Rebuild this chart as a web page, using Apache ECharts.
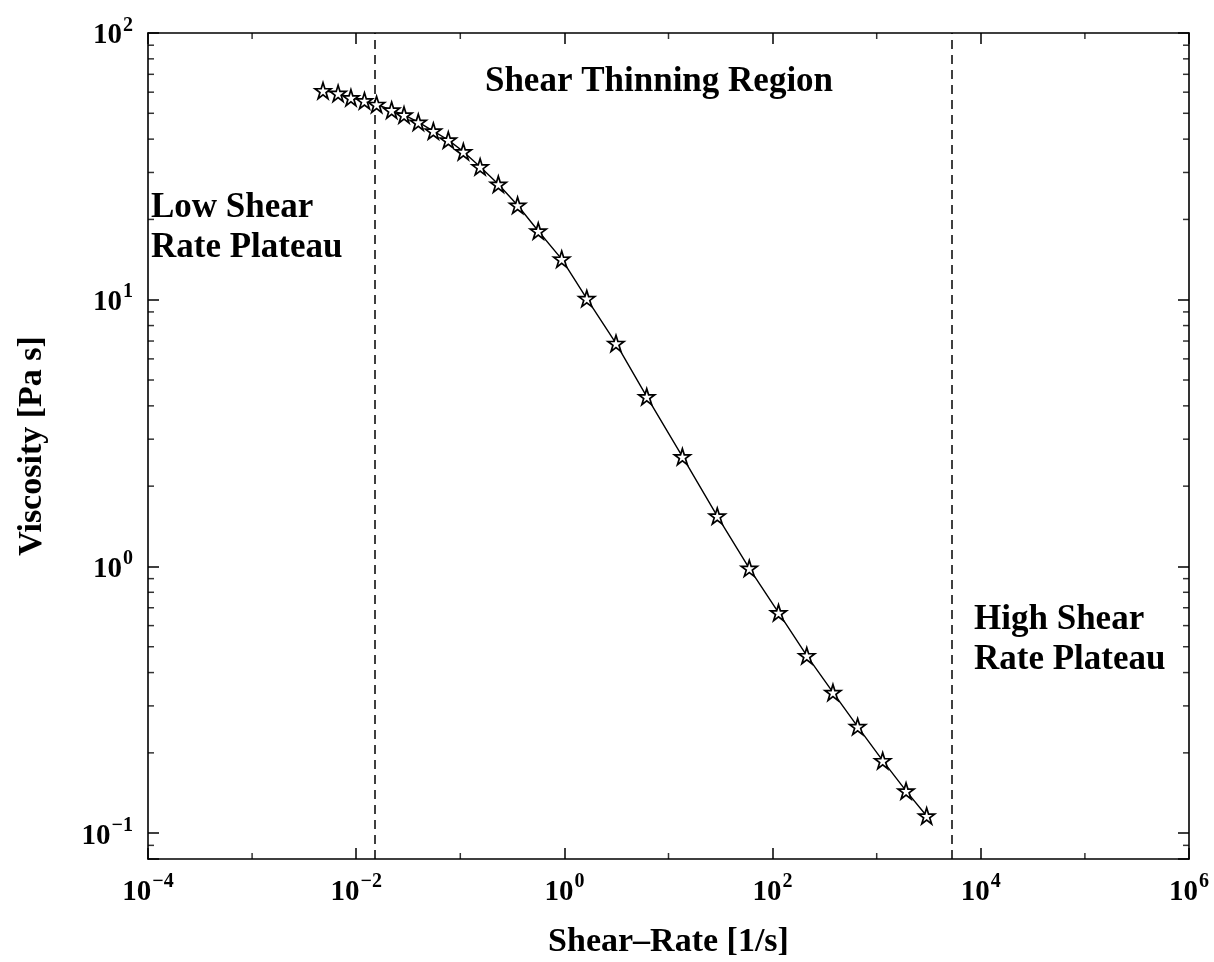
<!DOCTYPE html>
<html>
<head>
<meta charset="utf-8">
<script src="https://cdn.jsdelivr.net/npm/echarts@6/dist/echarts.min.js"></script>
<style>
  html, body { margin: 0; background: #fff; }
  #chart { width: 1214px; height: 962px; }
</style>
</head>
<body>
<div id="chart"></div>
<script>
const shearRate = [0.0048, 0.0067, 0.0089, 0.012, 0.0157, 0.0219, 0.0288, 0.0395, 0.0551, 0.0767,
  0.107, 0.155, 0.232, 0.355, 0.561, 0.942, 1.64, 3.13, 6.18, 13.6,
  29.4, 59.7, 114, 213, 380, 656, 1142, 1914, 3020]
const viscosity = [60.8, 59.4, 57.2, 55.7, 54.0, 51.4, 49.3, 46.3, 42.9, 39.7,
  35.9, 31.5, 27.1, 22.6, 18.1, 14.2, 10.1, 6.86, 4.33, 2.58,
  1.545, 0.984, 0.671, 0.463, 0.337, 0.251, 0.187, 0.144, 0.116]

// dashed region boundaries (shear rate)
const regionBounds = [0.0152, 5250]

// axis ranges and extra ticks
const xRange = [1e-4, 1e6]
const yRange = [0.08, 100]
const xMinorTicks = [1e-3, 1e-1, 1e1, 1e3, 1e5]
const yMinorTicks = [0.09, 0.2, 0.3, 0.4, 0.5, 0.6, 0.7, 0.8, 0.9,
  2, 3, 4, 5, 6, 7, 8, 9, 20, 30, 40, 50, 60, 70, 80, 90]

const FONT = 'Liberation Serif'
const supDigits = { '-': '\u2212' }

const powLabel = (v) => {
  const e = Math.log10(v)
  const r = Math.round(e)
  if (Math.abs(e - r) > 1e-6) return ''
  const s = String(r).split('').map(c => supDigits[c] || c).join('')
  return '{b|10}{s|' + s + '}'
}

const labelRich = {
  b: { fontFamily: FONT, fontWeight: 'bold', fontSize: 29, color: '#000', verticalAlign: 'bottom', lineHeight: 30 },
  s: { fontFamily: FONT, fontWeight: 'bold', fontSize: 20, color: '#000', verticalAlign: 'bottom', padding: [0, 0, 15, 1] }
}

const axisLine = { show: true, lineStyle: { color: '#000', width: 1.6 } }
const majorTick = { show: true, inside: true, length: 11, lineStyle: { color: '#000', width: 1.5 } }
const titleStyle = { fontFamily: FONT, fontWeight: 'bold', fontSize: 34, color: '#000' }

const chart = echarts.init(document.getElementById('chart'))

const option = {
  backgroundColor: '#fff',
  animation: false,
  grid: { left: 148, right: 25, top: 33, bottom: 103, containLabel: false, outerBoundsMode: 'none' },
  xAxis: [
    {
      type: 'log', logBase: 10, min: xRange[0], max: xRange[1], interval: 2,
      position: 'bottom',
      axisLine, axisTick: majorTick, splitLine: { show: false },
      axisLabel: { margin: 13, formatter: powLabel, rich: labelRich },
      name: 'Shear\u2013Rate [1/s]', nameLocation: 'middle', nameGap: 66,
      nameTextStyle: titleStyle
    },
    {
      type: 'log', logBase: 10, min: xRange[0], max: xRange[1], interval: 2,
      position: 'top',
      axisLine, axisTick: majorTick, splitLine: { show: false },
      axisLabel: { show: false }
    }
  ],
  yAxis: [
    {
      type: 'log', logBase: 10, min: yRange[0], max: yRange[1],
      position: 'left',
      axisLine, axisTick: majorTick, splitLine: { show: false },
      axisLabel: { margin: 15, formatter: powLabel, rich: labelRich },
      name: 'Viscosity [Pa s]', nameLocation: 'middle', nameGap: 99,
      nameTextStyle: titleStyle
    },
    {
      type: 'log', logBase: 10, min: yRange[0], max: yRange[1],
      position: 'right',
      axisLine, axisTick: majorTick, splitLine: { show: false },
      axisLabel: { show: false }
    }
  ],
  graphic: [
    {
      type: 'text', style: {
        x: 659, y: 82, text: 'Shear Thinning Region', textAlign: 'center', textVerticalAlign: 'middle',
        font: 'bold 35px "Liberation Serif"', fill: '#000'
      }
    },
    {
      type: 'text', style: {
        x: 151, y: 228, text: 'Low Shear\nRate Plateau', textAlign: 'left', textVerticalAlign: 'middle',
        font: 'bold 35px "Liberation Serif"', lineHeight: 40, fill: '#000'
      }
    },
    {
      type: 'text', style: {
        x: 974, y: 640, text: 'High Shear\nRate Plateau', textAlign: 'left', textVerticalAlign: 'middle',
        font: 'bold 35px "Liberation Serif"', lineHeight: 40, fill: '#000'
      }
    }
  ],
  series: [
    {
      type: 'line',
      data: shearRate.map((x, i) => [x, viscosity[i]]),
      symbol: 'path://M50 0 L61.17 34.63 L97.55 34.55 L68.07 55.87 L79.39 90.45 L50 69 L20.61 90.45 L31.93 55.87 L2.45 34.55 L38.83 34.63 Z',
      symbolSize: 16,
      itemStyle: { color: '#fff', borderColor: '#000', borderWidth: 1.7 },
      lineStyle: { color: '#000', width: 1.4 },
      z: 5,
      markLine: {
        silent: true,
        precision: 6,
        symbol: ['none', 'none'],
        label: { show: false },
        lineStyle: { color: '#000', type: [9, 6], width: 1.5 },
        data: regionBounds.map(v => ({ xAxis: v }))
      }
    },
    // minor ticks, left / right
    {
      type: 'scatter', silent: true, clip: false, symbol: 'rect', symbolSize: [6, 1.5], symbolOffset: [3, 0],
      itemStyle: { color: '#000' },
      data: yMinorTicks.map(v => [xRange[0], v])
    },
    {
      type: 'scatter', silent: true, clip: false, symbol: 'rect', symbolSize: [6, 1.5], symbolOffset: [-3, 0],
      itemStyle: { color: '#000' },
      data: yMinorTicks.map(v => [xRange[1], v])
    },
    // minor ticks, bottom / top
    {
      type: 'scatter', silent: true, clip: false, symbol: 'rect', symbolSize: [1.5, 6], symbolOffset: [0, -3],
      itemStyle: { color: '#000' },
      data: xMinorTicks.map(v => [v, yRange[0]])
    },
    {
      type: 'scatter', silent: true, clip: false, symbol: 'rect', symbolSize: [1.5, 6], symbolOffset: [0, 3],
      itemStyle: { color: '#000' },
      data: xMinorTicks.map(v => [v, yRange[1]])
    }
  ]
}

chart.setOption(option)
</script>
</body>
</html>
